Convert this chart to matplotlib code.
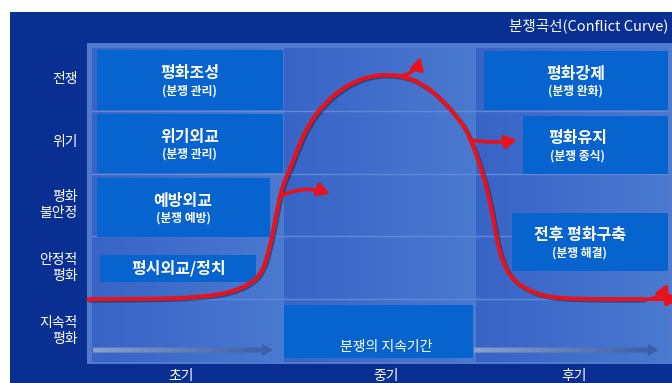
"""Conflict curve diagram (분쟁곡선) - levels of conflict vs stage, with the
peace operations that go with each part of the curve."""
import matplotlib
matplotlib.use("Agg")
import matplotlib.pyplot as plt
import numpy as np
from matplotlib.colors import LinearSegmentedColormap
from matplotlib.patches import Rectangle, FancyArrow, PathPatch
from matplotlib.path import Path
import matplotlib.patheffects as pe

plt.rcParams["font.family"] = ["Noto Sans CJK KR", "DejaVu Sans"]

TITLE = "분쟁곡선(Conflict Curve)"
STAGES = ["초기", "중기", "후기"]
STAGE_POS = [0.465, 1.53, 2.51]
LEVELS = ["지속적\n평화", "안정적\n평화", "평화\n불안정", "위기", "전쟁"]
LEVEL_POS = [0.5, 1.5, 2.5, 3.5, 4.5]

# boxes: title, subtitle, stage start, stage end, level low, level high, text x
BOX_TITLE = ["평화조성", "위기외교", "예방외교", "평시외교/정치",
             "평화강제", "평화유지", "전후 평화구축"]
BOX_SUB = ["(분쟁 관리)", "(분쟁 관리)", "(분쟁 예방)", "",
           "(분쟁 완화)", "(분쟁 종식)", "(분쟁 해결)"]
BOX_T0 = [0.026, 0.026, 0.026, 0.042, 2.04, 2.245, 2.19]
BOX_T1 = [0.995, 0.995, 0.927, 0.854, 3.0, 3.0, 3.0]
BOX_L0 = [4.01, 3.01, 1.99, 1.27, 4.01, 2.99, 1.45]
BOX_L1 = [4.97, 3.95, 2.93, 1.70, 4.95, 3.92, 2.37]
BOX_TX = [0.51, 0.51, 0.475, 0.45, 2.52, 2.53, 2.54]

DURATION = "분쟁의 지속기간"
DUR_T = (1.0, 1.985)
DUR_L = (0.06, 0.91)

# red conflict curve (stage, level)
CURVE_T = [-0.02, 0.30, 0.56, 0.73, 0.84, 0.89, 0.917, 0.938, 0.964, 0.99,
           1.026, 1.083, 1.135, 1.203, 1.292, 1.38, 1.464, 1.552, 1.63, 1.708,
           1.81, 1.917, 1.969, 2.036, 2.083, 2.115, 2.151, 2.193, 2.266, 2.37,
           2.54, 2.87]
CURVE_L = [1.0, 1.0, 1.03, 1.11, 1.27, 1.46, 1.73, 1.99, 2.42, 2.79,
           3.03, 3.49, 3.81, 4.09, 4.33, 4.48, 4.56, 4.575, 4.54, 4.45,
           4.22, 3.85, 3.58, 3.01, 2.42, 1.83, 1.51, 1.31, 1.15, 1.035,
           1.0, 1.0]

# branch arrows off the curve: start, tip, bend
BR_START = [(0.995, 2.66), (1.59, 4.55), (1.969, 3.535), (2.85, 1.0), (2.9, 1.0)]
BR_TIP = [(1.24, 2.675), (1.71, 4.86), (2.215, 3.535), (3.0, 1.25), (3.06, 1.0)]
BR_RAD = [-0.2, 0.35, 0.08, 0.35, 0.0]

# time arrows at the bottom
TIME_T0 = [0.005, 1.99]
TIME_T1 = [0.94, 2.95]
TIME_L = 0.19

DARK = "#0a2f93"
PANEL_EDGE = "#5179cc"
BOX = "#0764cf"
RED = "#e8121c"
GRID = "#5f8ad9"

fig = plt.figure(figsize=(6.72, 3.83), dpi=100)
fig.patch.set_facecolor("white")
fig.add_artist(Rectangle((10 / 672, 0), 662 / 672, 371 / 383,
                         transform=fig.transFigure, fc=DARK, ec="none", zorder=0))

ax = fig.add_axes([92 / 672, 21 / 383, 576 / 672, 314 / 383])
ax.axis("off")

# panel background with a soft gradient per stage column
ax.add_patch(Rectangle((-0.026, -0.035), 3.05, 5.115, fc=PANEL_EDGE, ec="none",
                       clip_on=False, zorder=0))
panel_cmap = LinearSegmentedColormap.from_list("panel", ["#3864c6", "#4a79d0"])
for c in range(3):
    ax.imshow(np.linspace(0, 1, 64)[None, :], extent=(c, c + 1, 0, 5),
              cmap=panel_cmap, aspect="auto", zorder=0.5)
ax.set_xlim(0, 3)
ax.set_ylim(0, 5)
for lv in [1, 2, 3, 4]:
    ax.plot([0, 3], [lv, lv], color=GRID, lw=1.0, zorder=1)

# boxes
for i, title in enumerate(BOX_TITLE):
    t0, t1, l0, l1 = BOX_T0[i], BOX_T1[i], BOX_L0[i], BOX_L1[i]
    ax.add_patch(Rectangle((t0, l0), t1 - t0, l1 - l0, fc=BOX, ec="none", zorder=2))
    mid = (l0 + l1) / 2
    if BOX_SUB[i]:
        ax.text(BOX_TX[i], mid + 0.11, title, ha="center", va="center",
                color="white", fontsize=11.5, fontweight="bold", zorder=3)
        ax.text(BOX_TX[i], mid - 0.17, BOX_SUB[i], ha="center", va="center",
                color="white", fontsize=8.5, fontweight="bold", zorder=3)
    else:
        ax.text(BOX_TX[i], mid, title, ha="center", va="center",
                color="white", fontsize=11.5, fontweight="bold", zorder=3)

ax.add_patch(Rectangle((DUR_T[0], DUR_L[0]), DUR_T[1] - DUR_T[0], DUR_L[1] - DUR_L[0],
                       fc=BOX, ec="none", zorder=2))
ax.text(1.53, 0.24, DURATION, ha="center", va="center", color="white",
        fontsize=10, zorder=3)

# gradient time arrows
arrow_cmap = LinearSegmentedColormap.from_list("arr", ["#8aa0cc", "#3b5ca6"])
for t0, t1 in zip(TIME_T0, TIME_T1):
    arr = FancyArrow(t0, TIME_L, t1 - t0, 0, width=0.08, head_width=0.2,
                     head_length=0.055, length_includes_head=True,
                     fc="none", ec="none", zorder=2)
    ax.add_patch(arr)
    im = ax.imshow(np.linspace(0, 1, 64)[None, :], extent=(t0, t1, 0.05, 0.35),
                   cmap=arrow_cmap, aspect="auto", zorder=2)
    im.set_clip_path(arr)
ax.set_xlim(0, 3)
ax.set_ylim(0, 5)

# red curve, smoothed through the read points with quadratic segments
pts = np.column_stack([CURVE_T, CURVE_L])
verts = [pts[0]]
codes = [Path.MOVETO]
for i in range(1, len(pts) - 1):
    verts += [pts[i], (pts[i] + pts[i + 1]) / 2]
    codes += [Path.CURVE3, Path.CURVE3]
verts.append(pts[-1])
codes.append(Path.LINETO)
shadow = [pe.SimpleLineShadow(offset=(1, -1), alpha=0.35), pe.Normal()]
ax.add_patch(PathPatch(Path(verts, codes), fc="none", ec=RED, lw=3,
                       capstyle="round", joinstyle="round", clip_on=False,
                       zorder=5, path_effects=shadow))
for s, tip, rad in zip(BR_START, BR_TIP, BR_RAD):
    ax.annotate("", xy=tip, xytext=s, annotation_clip=False, zorder=5,
                arrowprops=dict(arrowstyle="-|>,head_length=0.5,head_width=0.27",
                                mutation_scale=14, color=RED, lw=2.6,
                                shrinkA=0, shrinkB=0,
                                connectionstyle=f"arc3,rad={rad}"))

# labels
for name, lv in zip(LEVELS, LEVEL_POS):
    ax.text(-0.075, lv, name, ha="right", va="center", color="white",
            fontsize=10, linespacing=1.2, multialignment="right")
for name, t in zip(STAGES, STAGE_POS):
    ax.text(t, -0.22, name, ha="center", va="center", color="white", fontsize=10)
ax.text(3.0, 5.35, TITLE, ha="right", va="center", color="white", fontsize=10.5)

fig.savefig("out.png", dpi=100, facecolor=fig.get_facecolor())
